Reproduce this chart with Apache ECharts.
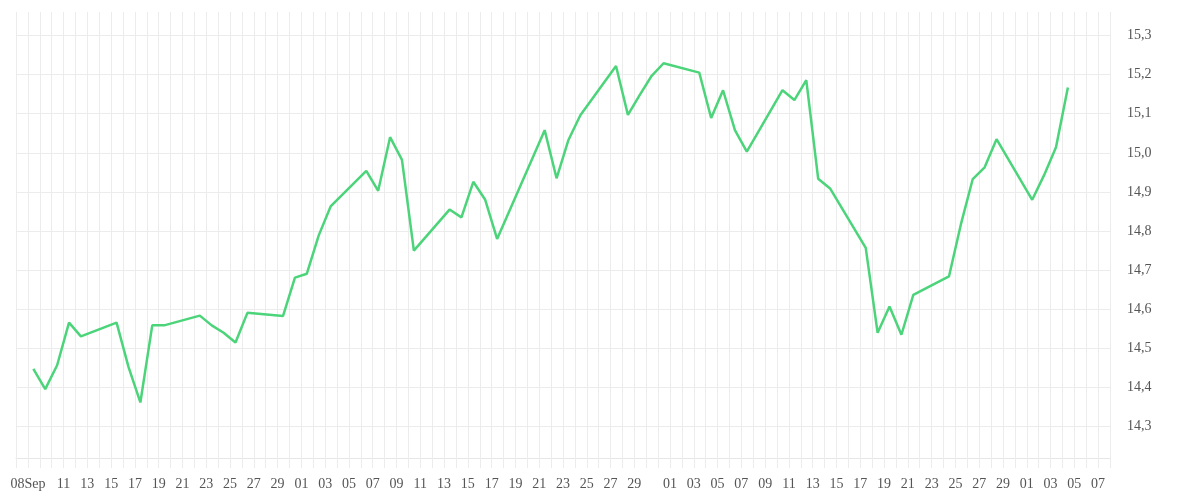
<!DOCTYPE html>
<html>
<head>
<meta charset="utf-8">
<script src="https://cdn.jsdelivr.net/npm/echarts@6/dist/echarts.min.js"></script>
<style>
html,body{margin:0;padding:0;background:#fff;}
#chart{width:1200px;height:500px;}
</style>
</head>
<body>
<div id="chart"></div>
<script>
// Observation dates (trading days)
const dates = [
  '2014-09-08','2014-09-09','2014-09-10','2014-09-11','2014-09-12',
  '2014-09-15','2014-09-16','2014-09-17','2014-09-18','2014-09-19',
  '2014-09-22','2014-09-23','2014-09-24','2014-09-25','2014-09-26',
  '2014-09-29','2014-09-30','2014-10-01','2014-10-02','2014-10-03',
  '2014-10-06','2014-10-07','2014-10-08','2014-10-09','2014-10-10',
  '2014-10-13','2014-10-14','2014-10-15','2014-10-16','2014-10-17',
  '2014-10-20','2014-10-21','2014-10-22','2014-10-23','2014-10-24',
  '2014-10-27','2014-10-28','2014-10-29','2014-10-30','2014-10-31',
  '2014-11-03','2014-11-04','2014-11-05','2014-11-06','2014-11-07',
  '2014-11-10','2014-11-11','2014-11-12','2014-11-13','2014-11-14',
  '2014-11-17','2014-11-18','2014-11-19','2014-11-20','2014-11-21',
  '2014-11-24','2014-11-25','2014-11-26','2014-11-27','2014-11-28',
  '2014-12-01','2014-12-02','2014-12-03','2014-12-04'
];
const observationTime = 'T11:00:00Z';
const values = [
  14.448,14.396,14.457,14.566,14.531,
  14.566,14.453,14.362,14.559,14.559,
  14.584,14.559,14.540,14.515,14.591,
  14.583,14.681,14.691,14.789,14.863,
  14.954,14.903,15.040,14.982,14.750,
  14.855,14.835,14.926,14.880,14.780,
  14.988,15.058,14.935,15.033,15.096,
  15.222,15.097,15.148,15.197,15.229,
  15.205,15.089,15.160,15.058,15.003,
  15.160,15.135,15.186,14.934,14.909,
  14.757,14.540,14.607,14.535,14.637,
  14.684,14.817,14.933,14.963,15.035,
  14.880,14.943,15.014,15.167
];
const xStart = '2014-09-07';
const xEnd = '2014-12-08';
const yMin = 14.22, yMax = 15.36;
const yLabelStep = 0.1;

const DAY = 86400000;
const startTs = Date.parse(xStart + 'T00:00:00Z');
const endTs = Date.parse(xEnd + 'T00:00:00Z');
const firstDay = Date.parse(dates[0] + 'T00:00:00Z');
const monthNames = ['Jan','Feb','Mar','Apr','May','Jun','Jul','Aug','Sep','Oct','Nov','Dec'];
const pad = n => (n < 10 ? '0' : '') + n;

const seriesData = dates.map((d, i) => [Date.parse(d + observationTime), values[i]]);

const isLabelStep = v => Math.abs(v / yLabelStep - Math.round(v / yLabelStep)) < 1e-6;
// minor tick every 0.02 -> every 5th is a labelled line; first tick 14.22, labelled at 14.30 (index 4)
const gridColors = ['rgba(0,0,0,0)','rgba(0,0,0,0)','rgba(0,0,0,0)','rgba(0,0,0,0)','#ececec'];

const chart = echarts.init(document.getElementById('chart'), null, {renderer: 'canvas'});
chart.setOption({
  animation: false,
  backgroundColor: '#ffffff',
  grid: {left: 16, right: 90, top: 12, bottom: 42, containLabel: false},
  xAxis: {
    type: 'value',
    min: startTs,
    max: endTs,
    interval: DAY,
    axisLine: {show: true, lineStyle: {color: '#e6e6e6', width: 1}},
    axisTick: {show: true, length: 10, lineStyle: {color: '#ececec'}},
    splitLine: {show: true, lineStyle: {color: '#ececec', width: 1}},
    axisLabel: {
      show: true,
      showMinLabel: true,
      showMaxLabel: true,
      hideOverlap: false,
      margin: 19,
      color: '#555',
      fontFamily: 'Liberation Serif',
      fontSize: 14,
      formatter: function (v) {
        const d = new Date(v);
        const day = d.getUTCDate();
        if (v === firstDay) return pad(day) + monthNames[d.getUTCMonth()];
        if (v < firstDay + 2 * DAY) return '';
        if (v >= endTs) return '';
        if (day === 1) return pad(day);
        if (day % 2 === 1 && day !== 31) return pad(day);
        return '';
      }
    }
  },
  yAxis: {
    type: 'value',
    position: 'right',
    min: yMin,
    max: yMax,
    interval: 0.02,
    scale: true,
    axisLine: {show: false},
    axisTick: {show: false},
    splitLine: {show: true, lineStyle: {color: gridColors, width: 1}},
    axisLabel: {
      margin: 17,
      color: '#555',
      fontFamily: 'Liberation Serif',
      fontSize: 14,
      padding: [4, 0, 0, 0],
      formatter: function (v) {
        if (!isLabelStep(v)) return '';
        return v.toFixed(1).replace('.', ',');
      }
    }
  },
  series: [{
    type: 'line',
    data: seriesData,
    showSymbol: false,
    symbol: 'none',
    lineStyle: {color: '#4cd47a', width: 2.5},
    itemStyle: {color: '#4cd47a'}
  }]
});
</script>
</body>
</html>
